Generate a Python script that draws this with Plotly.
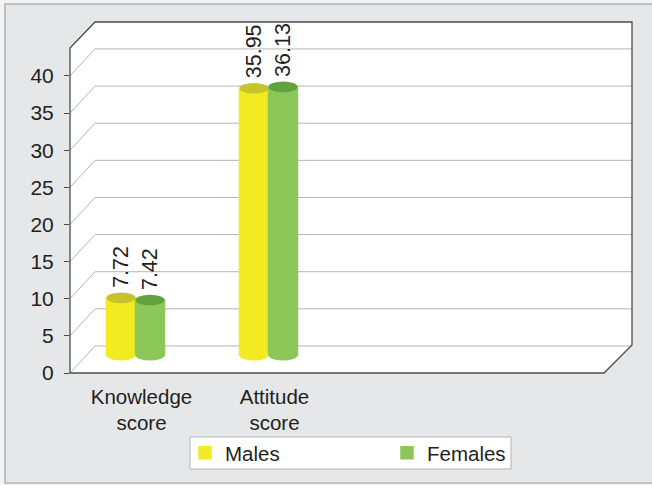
import plotly.graph_objects as go

# ---- data ----
categories = ["Knowledge<br>score", "Attitude<br>score"]
series_names = ["Males", "Females"]
males = [7.72, 35.95]
females = [7.42, 36.13]
y_ticks = [0, 5, 10, 15, 20, 25, 30, 35, 40]

# ---- style ----
W, H = 652, 485
L, T, R_, B = 70, 22, 20, 112          # margins (px)
PW, PH = W - L - R_, H - T - B          # plot area size
YMAX = 47.27
DEPTH_Y = 3.64                           # back-wall offset in y units
DEPTH_XP = 25 / PW                       # back-wall offset in paper x
BASE = 2.4                               # cylinders sit at mid depth
BAR_W = 0.218
ELL = 0.72                               # half height of cap ellipse (y units)
FONT = "Liberation Sans, Arial, sans-serif"
TXT = "#231f20"
bar_cols = ["#f4ea22", "#8cc75a"]
cap_cols = ["#c6c42a", "#62a13f"]
grid_col = "#b4b4b4"
frame_col = "#4a4a4a"
bg = "#e6e7e8"

def px_x(p):
    return (p - L) / PW

def px_y(p):
    return (H - B - p) / PH

fig = go.Figure()
xs = list(range(len(categories)))
legend_ids = ["legend", "legend2"]
for k, (name, vals) in enumerate(zip(series_names, [males, females])):
    fig.add_trace(go.Bar(
        name=name, x=xs, y=vals, base=[BASE] * len(vals),
        marker=dict(color=bar_cols[k], line=dict(width=1.5, color=bar_cols[k])),
        width=BAR_W, offset=(-BAR_W if k == 0 else 0),
        hoverinfo="skip", legend=legend_ids[k],
    ))

shapes = []
# outer panel
shapes.append(dict(type="rect", xref="paper", yref="paper",
                   x0=px_x(5), x1=px_x(700), y0=px_y(483), y1=px_y(4),
                   fillcolor=bg, line=dict(color="#b3b3b3", width=1.5), layer="below"))
# white 3D box face
x_back = DEPTH_XP
y_top_front = px_y(48)
path = (f"M 0 {px_y(373)} L 0 {y_top_front} L {x_back} 1 L 1 1 "
        f"L 1 {px_y(345)} L {px_x(604)} {px_y(373)} Z")
shapes.append(dict(type="path", xref="paper", yref="paper", path=path,
                   fillcolor="white", line=dict(width=0), layer="below"))
# gridlines (back wall + side diagonals)
for v in y_ticks:
    shapes.append(dict(type="line", xref="paper", yref="y", x0=0, y0=v,
                       x1=x_back, y1=v + DEPTH_Y, line=dict(color=grid_col, width=1), layer="below"))
    shapes.append(dict(type="line", xref="paper", yref="y", x0=x_back, y0=v + DEPTH_Y,
                       x1=1, y1=v + DEPTH_Y, line=dict(color=grid_col, width=1), layer="below"))
# frame outline
shapes.append(dict(type="path", xref="paper", yref="paper", path=path,
                   line=dict(color=frame_col, width=1.3), layer="above"))
# legend box
shapes.append(dict(type="rect", xref="paper", yref="paper",
                   x0=px_x(190), x1=px_x(511), y0=px_y(469), y1=px_y(437),
                   fillcolor="white", line=dict(color="#b3b3b3", width=1), layer="above"))

# cylinder caps and bottoms, derived from the data
for k, vals in enumerate([males, females]):
    for i, v in enumerate(vals):
        x0 = i - BAR_W if k == 0 else i
        x1 = x0 + BAR_W
        shapes.append(dict(type="circle", xref="x", yref="y", x0=x0, x1=x1,
                           y0=BASE - ELL, y1=BASE + ELL,
                           fillcolor=bar_cols[k], line=dict(width=0)))
        shapes.append(dict(type="circle", xref="x", yref="y", x0=x0, x1=x1,
                           y0=BASE + v - ELL, y1=BASE + v + ELL,
                           fillcolor=cap_cols[k], line=dict(width=0)))

annotations = []
for k, vals in enumerate([males, females]):
    for i, v in enumerate(vals):
        cx = i - BAR_W / 2 if k == 0 else i + BAR_W / 2
        annotations.append(dict(x=cx, y=BASE + v, xref="x", yref="y",
                                text=f"{v:.2f}", showarrow=False, textangle=-90,
                                yanchor="bottom", xanchor="center", yshift=8,
                                font=dict(family=FONT, size=21.5, color=TXT)))

leg_common = dict(orientation="h", xanchor="left", yanchor="top",
                  bgcolor="rgba(0,0,0,0)", borderwidth=0,
                  font=dict(family=FONT, size=20.5, color=TXT), itemwidth=30)

fig.update_layout(
    width=W, height=H,
    margin=dict(l=L, r=R_, t=T, b=B),
    paper_bgcolor="#f3f3f3", plot_bgcolor="rgba(0,0,0,0)",
    barmode="overlay",
    shapes=shapes, annotations=annotations,
    font=dict(family=FONT, size=20, color=TXT),
    showlegend=True,
    legend=dict(x=px_x(185), y=px_y(433), **leg_common),
    legend2=dict(x=px_x(387), y=px_y(433), **leg_common),
    xaxis=dict(range=[-0.4925, 3.733], tickvals=xs, ticktext=categories,
               showgrid=False, zeroline=False, showline=False, ticks="",
               ticklabelshift=6, ticklabelstandoff=9,
               tickfont=dict(family=FONT, size=20.5, color=TXT)),
    yaxis=dict(range=[0, YMAX], tickvals=y_ticks, showgrid=False, zeroline=False,
               showline=False, ticks="outside", ticklen=5, tickcolor=frame_col,
               tickwidth=1.3, ticklabelstandoff=6,
               tickfont=dict(family=FONT, size=21, color=TXT)),
)

fig.write_html("out.html")
